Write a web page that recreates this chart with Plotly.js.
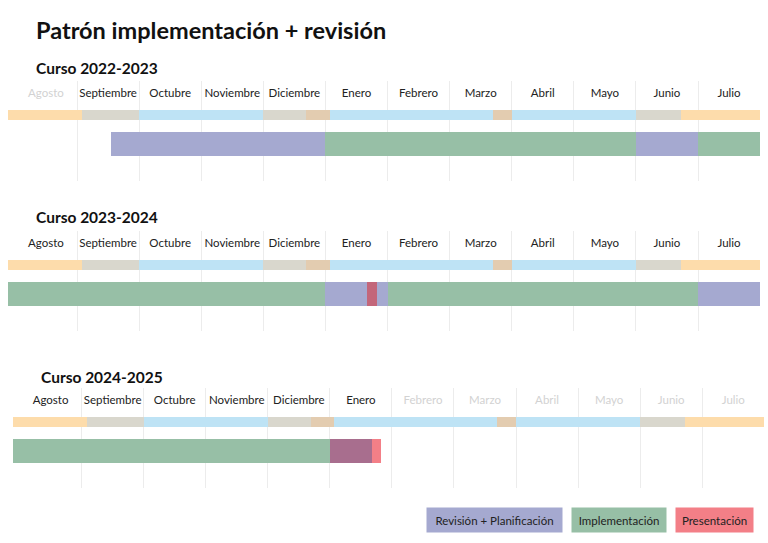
<!DOCTYPE html>
<html>
<head>
<meta charset="utf-8">
<script src="https://cdn.plot.ly/plotly-3.0.1.min.js"></script>
<style>html,body{margin:0;padding:0;background:#fff;}#chart{width:768px;height:543px;}</style>
</head>
<body>
<div id="chart"></div>
<script>
// ---------- DATA ----------
const months = ['Agosto','Septiembre','Octubre','Noviembre','Diciembre','Enero','Febrero','Marzo','Abril','Mayo','Junio','Julio'];
const courses = ['Curso 2022-2023','Curso 2023-2024','Curso 2024-2025'];
// 1 = mes activo (texto oscuro), 0 = mes atenuado
const activeMonths2223 = [0,1,1,1,1,1,1,1,1,1,1,1];
const activeMonths2324 = [1,1,1,1,1,1,1,1,1,1,1,1];
const activeMonths2425 = [1,1,1,1,1,1,0,0,0,0,0,0];

// Calendario escolar (meses desde 1 de agosto)
const bandKind  = ['Vacaciones','Inicio','Clases','Inicio','Festivo','Clases','Festivo','Clases','Inicio','Vacaciones'];
const bandStart = [-0.11, 1.08, 2.0, 4.0, 4.69, 5.07, 7.7, 8.0, 10.0, 10.72];
const bandEnd   = [1.08, 2.0, 4.0, 4.69, 5.07, 7.7, 8.0, 10.0, 10.72, 12.0];

// Fases por curso (orden de dibujo)
const phase2223 = ['Revisión + Planificación','Implementación','Revisión + Planificación','Implementación'];
const start2223 = [1.55, 5.0, 10.0, 11.0];
const end2223   = [5.0, 10.0, 11.0, 12.0];

const phase2324 = ['Implementación','Revisión + Planificación','Presentación','Implementación','Revisión + Planificación'];
const start2324 = [-0.11, 5.0, 5.67, 6.0, 11.0];
const end2324   = [5.0, 6.0, 5.83, 11.0, 12.0];

const phase2425 = ['Implementación','Presentación','Revisión + Planificación'];
const start2425 = [-0.11, 5.0, 5.0];
const end2425   = [5.0, 5.83, 5.68];

const legendItems = ['Revisión + Planificación','Implementación','Presentación'];

// ---------- STYLE ----------
const FONT = 'Lato, "Open Sans", sans-serif';
const phaseColor = {'Revisión + Planificación':'#a5a9d0','Implementación':'#97bfa6','Presentación':'#f37f87'};
const overlapColor = {
  'Presentación>Revisión + Planificación':'#c3667a',
  'Revisión + Planificación>Presentación':'#a86e8e'
};
const bandColor = {'Vacaciones':'#fddcab','Inicio':'#d9d7cd','Clases':'#bee3f5','Festivo':'#e3ccb0'};
const W = 768, H = 543;
const panelPx = [
  {left:8.1, right:760.1, top:81, bottom:181},
  {left:8.1, right:760.1, top:231, bottom:331},
  {left:12.7, right:764.3, top:388, bottom:488}
];
const LABEL_Y = 13, BAND_Y = 34, BAND_H = 10, BAR_Y = 63, BAR_H = 24;

const active = [activeMonths2223, activeMonths2324, activeMonths2425];
const phases = [[phase2223,start2223,end2223],[phase2324,start2324,end2324],[phase2425,start2425,end2425]];

const traces = [];
const layout = {
  width: W, height: H,
  margin: {l:0,r:0,t:0,b:0},
  paper_bgcolor:'#fff', plot_bgcolor:'rgba(0,0,0,0)',
  showlegend:false, barmode:'overlay', bargap:0,
  font:{family:FONT, color:'#222'},
  annotations: [],
  hovermode:false
};

layout.annotations.push({
  text:'<b>Patrón implementación + revisión</b>', xref:'paper', yref:'paper',
  x:34/W, y:1-30/H, xanchor:'left', yanchor:'middle', showarrow:false,
  font:{size:23.5, color:'#111', family:FONT}
});

const titleY = [68, 217, 377];

panelPx.forEach((p, k) => {
  const sfx = k === 0 ? '' : String(k+1);
  const xa = 'x'+sfx, ya = 'y'+sfx;
  layout['xaxis'+sfx] = {
    domain:[p.left/W, p.right/W], range:[-0.11, 12], anchor:ya,
    tickvals:[1,2,3,4,5,6,7,8,9,10,11], showticklabels:false, ticks:'',
    showgrid:true, gridcolor:'#ececec', gridwidth:1, zeroline:false, showline:false, fixedrange:true
  };
  layout['yaxis'+sfx] = {
    domain:[1-p.bottom/H, 1-p.top/H], range:[100, 0], anchor:xa,
    showgrid:false, showticklabels:false, ticks:'', zeroline:false, showline:false, fixedrange:true
  };

  // school calendar band
  traces.push({
    type:'bar', orientation:'h', xaxis:xa, yaxis:ya,
    base: bandStart, x: bandStart.map((s,i)=>bandEnd[i]-s),
    y: bandStart.map(()=>BAND_Y), width: BAND_H,
    marker:{color: bandKind.map(b=>bandColor[b]), line:{width:0}}
  });

  // phases
  const [ph, st, en] = phases[k];
  traces.push({
    type:'bar', orientation:'h', xaxis:xa, yaxis:ya,
    base: st, x: st.map((s,i)=>en[i]-s),
    y: st.map(()=>BAR_Y), width: BAR_H,
    marker:{color: ph.map(f=>phaseColor[f]), line:{width:0}}
  });
  // overlaps: later segment drawn over earlier one
  const ob=[], ox=[], oc=[];
  for (let i=0;i<ph.length;i++) for (let j=i+1;j<ph.length;j++) {
    const a = Math.max(st[i], st[j]), b = Math.min(en[i], en[j]);
    const key = ph[j]+'>'+ph[i];
    if (b > a && overlapColor[key]) { ob.push(a); ox.push(b-a); oc.push(overlapColor[key]); }
  }
  if (ob.length) traces.push({
    type:'bar', orientation:'h', xaxis:xa, yaxis:ya,
    base: ob, x: ox, y: ob.map(()=>BAR_Y), width: BAR_H,
    marker:{color: oc, line:{width:0}}
  });

  // month labels
  traces.push({
    type:'scatter', mode:'text', xaxis:xa, yaxis:ya,
    x: months.map((m,i)=>i+0.5), y: months.map(()=>LABEL_Y),
    text: months, cliponaxis:false,
    textfont:{size:11.5, family:FONT, color: active[k].map(a=>a ? '#222' : '#d2d2d2')}
  });

  layout.annotations.push({
    text:'<b>'+courses[k]+'</b>', xref:'paper', yref:'paper',
    x:(p.left+26)/W, y:1-titleY[k]/H, xanchor:'left', yanchor:'middle', showarrow:false,
    font:{size:15.5, color:'#111', family:FONT}
  });
});

// legend boxes
const legendCx = [494.5, 619, 714.5];
const legendW = [135, 94, 77];
legendItems.forEach((name, i) => {
  layout.annotations.push({
    text:name, xref:'paper', yref:'paper', x:legendCx[i]/W, y:1-520/H,
    xanchor:'center', yanchor:'middle', showarrow:false,
    width:legendW[i], height:24, borderpad:0, bgcolor:phaseColor[name],
    font:{size:11.5, color:'#222', family:FONT}, align:'center', valign:'middle'
  });
});

Plotly.newPlot('chart', traces, layout, {displayModeBar:false, staticPlot:true});
</script>
</body>
</html>
